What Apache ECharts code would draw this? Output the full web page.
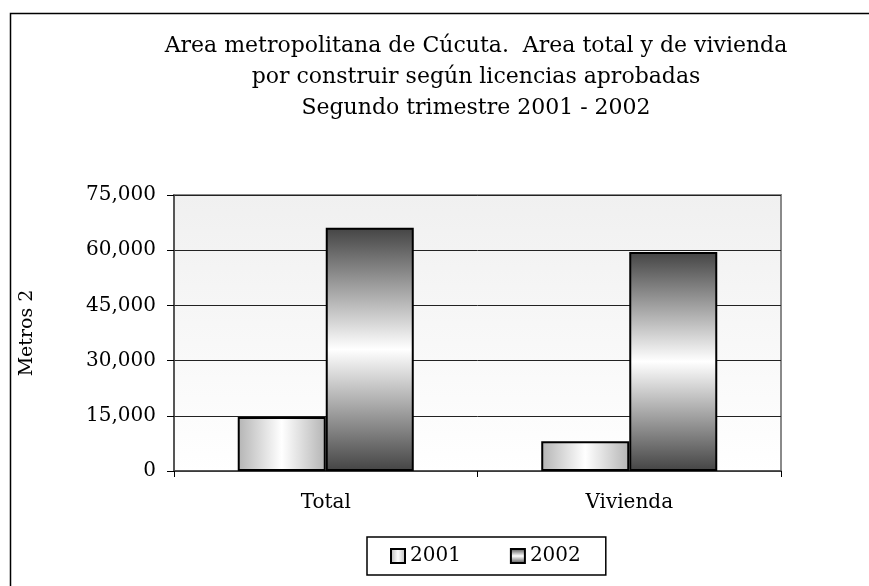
<!DOCTYPE html>
<html>
<head>
<meta charset="utf-8">
<script src="https://cdn.jsdelivr.net/npm/echarts@6/dist/echarts.min.js"></script>
<style>html,body{margin:0;padding:0;background:#fff}#c{width:869px;height:586px}</style>
</head>
<body>
<div id="c"></div>
<script>
const titleLines = ['Area metropolitana de Cúcuta.  Area total y de vivienda', 'por construir según licencias aprobadas', 'Segundo trimestre 2001 - 2002'];
const categories = ['Total', 'Vivienda'];
const seriesNames = ['2001', '2002'];
const values2001 = [14700, 8100];
const values2002 = [66100, 59500];
const yTicks = {min: 0, max: 75000, interval: 15000};
const yName = 'Metros 2';

const FONT = 'DejaVu Serif';
const fill2001 = new echarts.graphic.LinearGradient(0, 0, 1, 0, [
  {offset: 0, color: '#b4b4b4'}, {offset: 0.5, color: '#ffffff'}, {offset: 1, color: '#b4b4b4'}]);
const fill2002 = new echarts.graphic.LinearGradient(0, 0, 0, 1, [
  {offset: 0, color: '#444444'}, {offset: 0.5, color: '#ffffff'}, {offset: 1, color: '#444444'}]);

const chart = echarts.init(document.getElementById('c'), null, {renderer: 'canvas'});
chart.setOption({
  animation: false,
  backgroundColor: '#fff',
  title: {
    text: titleLines.join('\n'),
    left: 471, top: 26, textAlign: 'center',
    textStyle: {fontFamily: FONT, fontSize: 22, fontWeight: 'normal', color: '#000', lineHeight: 31}
  },
  graphic: [{
    type: 'rect', shape: {x: 10.5, y: 13.5, width: 900, height: 600},
    style: {fill: 'none', stroke: '#000', lineWidth: 1.5}, z: 100
  }],
  legend: {
    data: seriesNames,
    left: 367, top: 537,
    padding: [9, 25, 9, 23],
    itemGap: 49,
    itemWidth: 14, itemHeight: 14,
    borderColor: '#000', borderWidth: 1.5,
    textStyle: {fontFamily: FONT, fontSize: 20, color: '#000'},
    icon: 'rect'
  },
  grid: {
    left: 174, right: 88, top: 195, bottom: 115,
    show: true,
    borderColor: '#8a8a8a', borderWidth: 2,
    backgroundColor: new echarts.graphic.LinearGradient(0, 0, 0, 1, [
      {offset: 0, color: '#f0f0f0'}, {offset: 1, color: '#ffffff'}])
  },
  xAxis: {
    type: 'category', data: categories,
    axisLine: {lineStyle: {color: '#444', width: 1.5}},
    axisTick: {show: true, length: 6, lineStyle: {color: '#000'}},
    axisLabel: {fontFamily: FONT, fontSize: 20, color: '#000', margin: 22}
  },
  yAxis: {
    type: 'value', min: yTicks.min, max: yTicks.max, interval: yTicks.interval,
    name: yName, nameLocation: 'middle', nameGap: 137, nameRotate: 90,
    nameTextStyle: {fontFamily: FONT, fontSize: 19, color: '#000'},
    axisLine: {show: true, lineStyle: {color: '#444', width: 1.5}},
    axisTick: {show: true, length: 7, lineStyle: {color: '#000'}},
    axisLabel: {fontFamily: FONT, fontSize: 20, color: '#000', margin: 18,
      formatter: v => v.toLocaleString('en-US')},
    splitLine: {lineStyle: {color: '#222', width: 1}}
  },
  series: [{
    name: seriesNames[0], type: 'bar', data: values2001,
    barGap: '0%', barCategoryGap: '42%',
    itemStyle: {color: fill2001, borderColor: '#000', borderWidth: 2}
  }, {
    name: seriesNames[1], type: 'bar', data: values2002,
    itemStyle: {color: fill2002, borderColor: '#000', borderWidth: 2}
  }]
});
</script>
</body>
</html>
